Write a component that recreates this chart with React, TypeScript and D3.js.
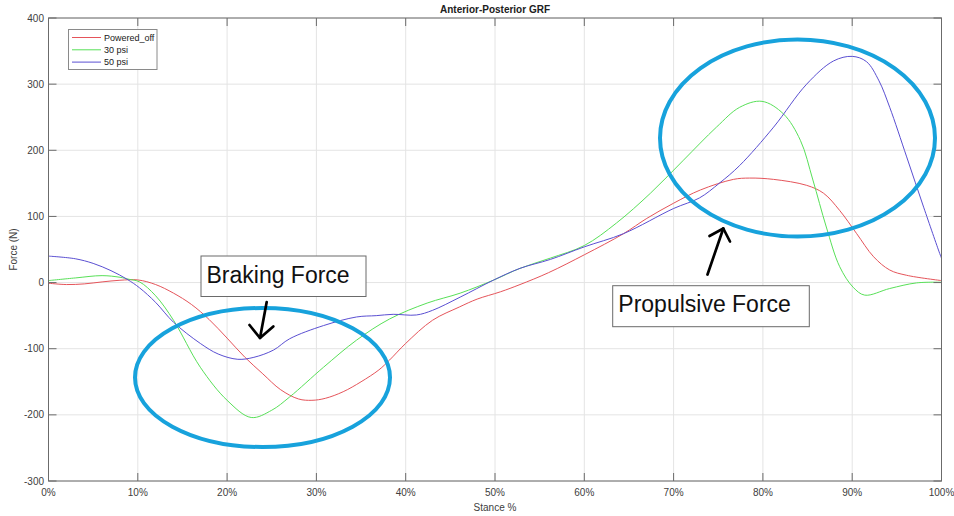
import React from "react";
import * as d3 from "d3";

// Stance percentage (x) and anterior-posterior force in newtons (y) for each condition
const poweredOffX = [0, 2, 4, 6, 8, 10, 12, 14, 16, 18, 20, 22, 24, 26, 28, 29.5, 31, 33, 35, 37, 38.2, 40, 43, 46, 48, 50.6, 52.8, 56, 60, 64.4, 67, 70, 73, 76.7, 78.5, 81.2, 84.9, 86.8, 88.6, 90.5, 92.4, 94.2, 96.1, 100];
const poweredOffY = [-1, -3, -2, 1, 3.5, 4, -3, -16, -33, -56, -84, -113, -138, -162, -176, -178, -175, -165, -150, -132, -117, -92, -57, -37, -25, -14, -3, 15, 42, 74, 97, 120, 140, 156, 158, 156, 147, 135, 109, 74, 39, 19, 11, 3];

const psi30X = [0, 3, 6, 8, 9, 10.2, 12, 14, 17, 20, 22.7, 25, 27, 30.8, 34.5, 38.2, 42.4, 46.1, 49.8, 52.8, 56.2, 60, 63.6, 67.4, 71.1, 74.8, 77.4, 79.9, 82.3, 84.2, 85.6, 87.1, 88.6, 90.1, 91.4, 94.2, 97.2, 100];
const psi30Y = [3, 7, 10.5, 8, 5, 1, -20, -57, -128, -178, -204, -193, -173, -128, -87, -55, -31, -16, 3.5, 21.5, 37, 56, 90, 135, 185, 235, 265, 274, 255, 215, 155, 84, 24, -7, -19, -9, -0.5, 0.5];

const psi50X = [0, 3, 5, 7, 8.8, 10.2, 12, 14, 17, 19, 21.2, 23, 25.2, 27, 30.8, 34.5, 36.7, 38.6, 41.2, 43, 46.1, 49.8, 52.8, 56.2, 60, 64.4, 70, 72.9, 75.1, 77.4, 81.2, 84.9, 87.9, 90, 91.6, 93, 94.2, 96.1, 98, 99.8, 100];
const psi50Y = [40, 36, 29, 18, 5, -8, -30, -60, -92, -108, -116, -113, -102, -85, -65, -52, -50, -48, -49, -42, -22, 3.5, 21.5, 35, 54, 74, 112, 128, 150, 177, 235, 300, 335, 342, 334, 305, 265, 190, 114, 44, 37];

const seriesNames = ["Powered_off", "30 psi", "50 psi"];
const seriesColors = ["#e5545a", "#58e058", "#5a4fd2"];

const xTicks = [0, 10, 20, 30, 40, 50, 60, 70, 80, 90, 100];
const yTicks = [-300, -200, -100, 0, 100, 200, 300, 400];

const W = 954;
const H = 516;
const left = 48.5;
const right = 941.5;
const top = 18;
const bottom = 481;
const tickLen = 8;
const font = "'Liberation Sans', Arial, sans-serif";
const axisColor = "#6b6b6b";
const ringColor = "#17a2dc";

export default function App() {
  const x = d3.scaleLinear().domain([0, 100]).range([left, right]);
  const y = d3.scaleLinear().domain([-300, 400]).range([bottom, top]);

  const series = [
    { xs: poweredOffX, ys: poweredOffY },
    { xs: psi30X, ys: psi30Y },
    { xs: psi50X, ys: psi50Y },
  ];

  const line = d3
    .line<[number, number]>()
    .x((d) => x(d[0]))
    .y((d) => y(d[1]))
    .curve(d3.curveCatmullRom.alpha(0.5));

  return (
    <svg
      width={W}
      height={H}
      style={{ position: "absolute", left: 0, top: 0, background: "#fff" }}
      fontFamily={font}
    >
      <rect x={0} y={0} width={W} height={H} fill="#fff" />
      {/* grid */}
      {xTicks.map((t) => (
        <line key={"gx" + t} x1={x(t)} x2={x(t)} y1={top} y2={bottom} stroke="#e4e4e4" strokeWidth={1} />
      ))}
      {yTicks.map((t) => (
        <line key={"gy" + t} x1={left} x2={right} y1={y(t)} y2={y(t)} stroke="#e4e4e4" strokeWidth={1} />
      ))}

      {/* series */}
      {series.map((s, i) => (
        <path
          key={seriesNames[i]}
          d={line(s.xs.map((v, j) => [v, s.ys[j]] as [number, number])) || ""}
          fill="none"
          stroke={seriesColors[i]}
          strokeWidth={1}
        />
      ))}

      {/* axes box with inward ticks on all sides */}
      <rect x={left} y={top} width={right - left} height={bottom - top} fill="none" stroke={axisColor} strokeWidth={1} />
      {xTicks.map((t) => (
        <g key={"tx" + t}>
          <line x1={x(t)} x2={x(t)} y1={bottom} y2={bottom - tickLen} stroke={axisColor} />
          <line x1={x(t)} x2={x(t)} y1={top} y2={top + tickLen} stroke={axisColor} />
          <text x={x(t)} y={496} textAnchor="middle" fontSize={10} fill="#404040">
            {t + "%"}
          </text>
        </g>
      ))}
      {yTicks.map((t) => (
        <g key={"ty" + t}>
          <line x1={left} x2={left + tickLen} y1={y(t)} y2={y(t)} stroke={axisColor} />
          <line x1={right} x2={right - tickLen} y1={y(t)} y2={y(t)} stroke={axisColor} />
          <text x={44} y={y(t) + 3.5} textAnchor="end" fontSize={10} fill="#404040">
            {t}
          </text>
        </g>
      ))}

      {/* titles */}
      <text x={495} y={13} textAnchor="middle" fontSize={10} fontWeight="bold" fill="#202020">
        Anterior-Posterior GRF
      </text>
      <text x={495} y={511} textAnchor="middle" fontSize={10} fill="#404040">
        Stance %
      </text>
      <text
        transform={`translate(17, ${(top + bottom) / 2}) rotate(-90)`}
        textAnchor="middle"
        fontSize={10}
        fill="#404040"
      >
        Force (N)
      </text>

      {/* legend */}
      <rect x={68.5} y={29.5} width={88.5} height={40} fill="#fff" stroke="#8a8a8a" strokeWidth={1} />
      {seriesNames.map((name, i) => (
        <g key={"lg" + name}>
          <line x1={72} x2={101} y1={37.5 + i * 12.3} y2={37.5 + i * 12.3} stroke={seriesColors[i]} strokeWidth={1} />
          <text x={104} y={40.7 + i * 12.3} fontSize={9} fill="#202020">
            {name}
          </text>
        </g>
      ))}

      {/* highlighted regions */}
      <ellipse cx={262.5} cy={377.5} rx={127.5} ry={69.5} fill="none" stroke={ringColor} strokeWidth={4} />
      <ellipse cx={797.5} cy={138} rx={137.5} ry={98.5} fill="none" stroke={ringColor} strokeWidth={4} />

      {/* callouts */}
      <rect x={201} y={256} width={165} height={40.5} fill="#fff" stroke="#6a6a6a" strokeWidth={1} />
      <text x={206.5} y={283.3} fontSize={23} fill="#111">
        Braking Force
      </text>
      <g stroke="#000" strokeWidth={2.7} fill="none" strokeLinecap="round" strokeLinejoin="round">
        <line x1={266.7} y1={302} x2={260} y2={338} />
        <polyline points="249.5,325 260,338 273.3,326.5" />
      </g>

      <rect x={612.7} y={285.7} width={196.6} height={41} fill="#fff" stroke="#6a6a6a" strokeWidth={1} />
      <text x={618.3} y={311.7} fontSize={23} fill="#111">
        Propulsive Force
      </text>
      <g stroke="#000" strokeWidth={2.7} fill="none" strokeLinecap="round" strokeLinejoin="round">
        <line x1={707.5} y1={274.5} x2={723.3} y2={228.5} />
        <polyline points="709.5,236 723.3,228.5 730,241.5" />
      </g>
    </svg>
  );
}
